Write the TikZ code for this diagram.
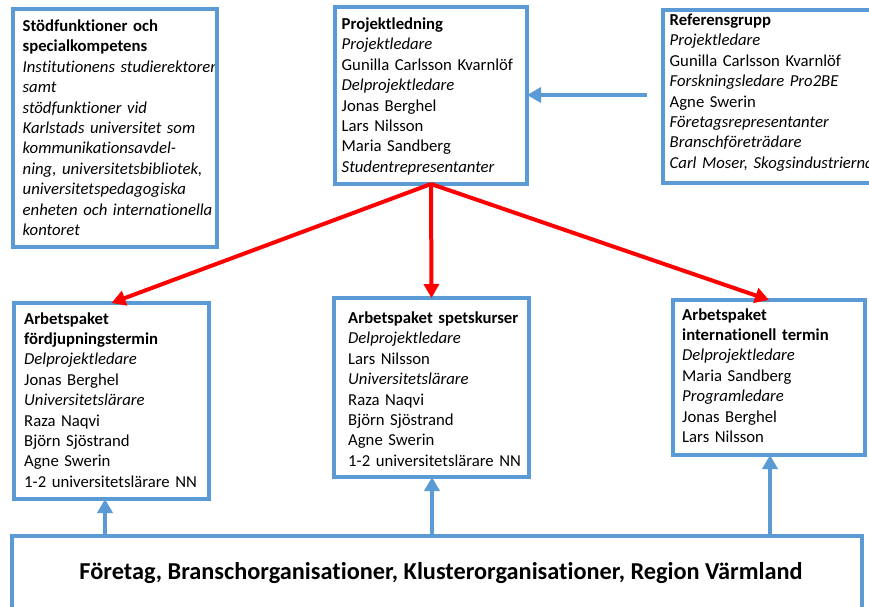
\documentclass[tikz,border=0pt]{standalone}
\usepackage{fontspec}
\setmainfont{Carlito}[Ligatures=NoCommon]
\usetikzlibrary{arrows.meta}
\definecolor{boxblue}{RGB}{91,155,213}
\definecolor{arrred}{RGB}{255,0,0}
\begin{document}
\begin{tikzpicture}[x=1pt,y=-1pt,
  box/.style={draw=boxblue, line width=4pt, rectangle, inner sep=0pt, outer sep=0pt, anchor=north west},
  txt/.style={anchor=base west, inner sep=0pt, text width=300pt, align=left, font=\fontsize{16.7}{20.4}\selectfont},
  redarr/.style={draw=arrred, line width=4pt, -{Triangle[length=14pt,width=15pt]}},
  bluearr/.style={draw=boxblue, line width=4pt, -{Triangle[length=14pt,width=15pt]}},
]
\useasboundingbox (0,0) rectangle (869,606);
\clip (0,0) rectangle (869,606);
\fill[white] (0,0) rectangle (869,606);

% texts
\node[txt] (tstod) at (22.5,31.5) {\textbf{Stödfunktioner och}\\\textbf{specialkompetens}\\
\textit{Institutionens studierektorer}\\\textit{samt}\\\textit{stödfunktioner vid}\\
\textit{Karlstads universitet som}\\\textit{kommunikationsavdel-}\\\textit{ning, universitetsbibliotek,}\\
\textit{universitetspedagogiska}\\\textit{enheten och internationella}\\\textit{kontoret}};
\node[txt] (tproj) at (341.5,29.5) {\textbf{Projektledning}\\\textit{Projektledare}\\Gunilla Carlsson Kvarnlöf\\
\textit{Delprojektledare}\\Jonas Berghel\\Lars Nilsson\\Maria Sandberg\\\textit{Studentrepresentanter}};
\node[txt] (tref) at (669.5,25.5) {\textbf{Referensgrupp}\\\textit{Projektledare}\\Gunilla Carlsson Kvarnlöf\\
\textit{Forskningsledare Pro2BE}\\Agne Swerin\\\textit{Företagsrepresentanter}\\\textit{Branschföreträdare}\\
\textit{Carl Moser, Skogsindustrierna}};
\node[txt] (tap1) at (24,324) {\textbf{Arbetspaket}\\\textbf{fördjupningstermin}\\\textit{Delprojektledare}\\
Jonas Berghel\\\textit{Universitetslärare}\\Raza Naqvi\\Björn Sjöstrand\\Agne Swerin\\1-2 universitetslärare NN};
\node[txt] (tap2) at (348,323.5) {\textbf{Arbetspaket spetskurser}\\\textit{Delprojektledare}\\Lars Nilsson\\
\textit{Universitetslärare}\\Raza Naqvi\\Björn Sjöstrand\\Agne Swerin\\1-2 universitetslärare NN};
\node[txt] (tap3) at (682,320) {\textbf{Arbetspaket}\\\textbf{internationell termin}\\\textit{Delprojektledare}\\
Maria Sandberg\\\textit{Programledare}\\Jonas Berghel\\Lars Nilsson};
\node[anchor=base, inner sep=0pt, font=\bfseries\fontsize{24.3}{28}\selectfont] (tbottom) at (441,579)
  {Företag, Branschorganisationer, Klusterorganisationer, Region Värmland};

% boxes
\node[box, minimum width=204pt, minimum height=238pt] (stod) at (13,9) {};
\node[box, minimum width=192pt, minimum height=177pt] (proj) at (335,7) {};
\node[box, minimum width=240pt, minimum height=173pt] (ref) at (663,10) {};
\node[box, minimum width=195pt, minimum height=196pt] (ap1) at (14,303) {};
\node[box, minimum width=195pt, minimum height=179pt] (ap2) at (334,298) {};
\node[box, minimum width=192pt, minimum height=155pt] (ap3) at (673,300) {};
\node[box, minimum width=850pt, minimum height=100pt] (bottom) at (12,536) {};

% connectors
\coordinate (h) at (647,95);
\draw[bluearr] (h) -- (h -| proj.east);
\draw[redarr] (proj.south) -- (ap1.north);
\draw[redarr] (proj.south) -- (ap2.north);
\draw[redarr] (proj.south) -- (ap3.north);
\coordinate (u1) at (105,536);
\coordinate (u2) at (432,536);
\coordinate (u3) at (770,536);
\draw[bluearr] (u1) -- (u1 |- ap1.south);
\draw[bluearr] (u2) -- (u2 |- ap2.south);
\draw[bluearr] (u3) -- (u3 |- ap3.south);
\end{tikzpicture}
\end{document}
